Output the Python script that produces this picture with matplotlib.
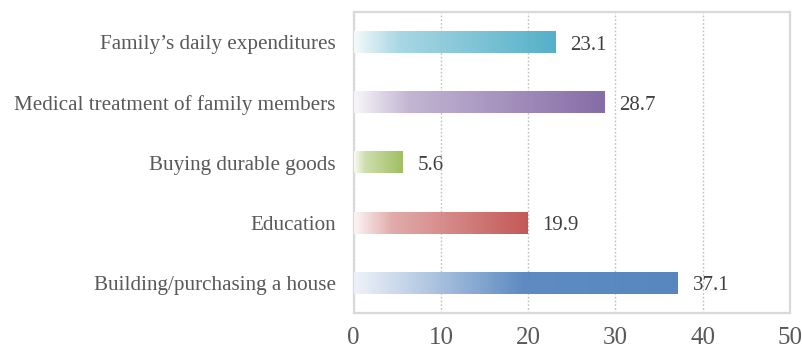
import numpy as np
import matplotlib
matplotlib.use("Agg")
import matplotlib.pyplot as plt
from matplotlib.colors import to_rgb

categories = ["Family\u2019s daily expenditures",
              "Medical treatment of family members",
              "Buying durable goods",
              "Education",
              "Building/purchasing a house"]
values = [23.1, 28.7, 5.6, 19.9, 37.1]
colors = ["#4bacc6", "#8064a2", "#9bbb59", "#c0504d", "#4f81bd"]
xticks = [0, 10, 20, 30, 40, 50]

plt.rcParams['font.family'] = ['Liberation Serif', 'DejaVu Serif']
text_color = "#595959"

fig = plt.figure(figsize=(8.03, 3.53), dpi=100)
ax = fig.add_axes([0.4405, 0.1133, 0.5433, 0.8527])

y = np.arange(len(categories))
bars = ax.barh(y, values, height=0.36, color="none", zorder=3)

# gradient fill for each bar, from light to full colour along its length
default_stops = ([0.0, 0.22, 1.0], [0.06, 0.5, 1.0])
blue_stops = ([0.0, 0.25, 0.52, 1.0], [0.1, 0.5, 0.97, 1.0])
N = 256
t = np.linspace(0, 1, N)
for i, (bar, c) in enumerate(zip(bars, colors)):
    st, sw = blue_stops if i == 4 else default_stops
    w = np.interp(t, st, sw)
    rgb = np.array(to_rgb(c))
    img = (1 - w)[:, None] * np.ones(3) + w[:, None] * rgb
    img = img[None, :, :]
    x0 = bar.get_x()
    x1 = x0 + bar.get_width()
    y0 = bar.get_y()
    y1 = y0 + bar.get_height()
    ax.imshow(img, extent=[x0, x1, y0, y1], aspect='auto', zorder=3,
              interpolation='bilinear', alpha=0.95)

for yi, v in zip(y, values):
    ax.text(v + 1.75, yi + 0.05, f"{v:.1f}", va='center', ha='left',
            fontsize=15, color="#404040", zorder=4)

ax.set_xlim(0, 50)
ax.set_ylim(-0.5, len(categories) - 0.5)
ax.invert_yaxis()
ax.set_xticks(xticks)
ax.set_xticklabels([str(x) for x in xticks])
ax.set_yticks(y)
ax.set_yticklabels(categories)
ax.tick_params(axis='both', length=0, colors=text_color)
ax.tick_params(axis='x', pad=10, labelsize=18)
ax.tick_params(axis='y', pad=13, labelsize=15.2)

ax.grid(axis='x', linestyle=(0, (1.2, 1.5)), color="#bfbfbf", linewidth=1, zorder=1)
ax.grid(axis='y', visible=False)
for s in ax.spines.values():
    s.set_color("#d9d9d9")
    s.set_linewidth(1.6)

fig.savefig("out.png", dpi=100)
